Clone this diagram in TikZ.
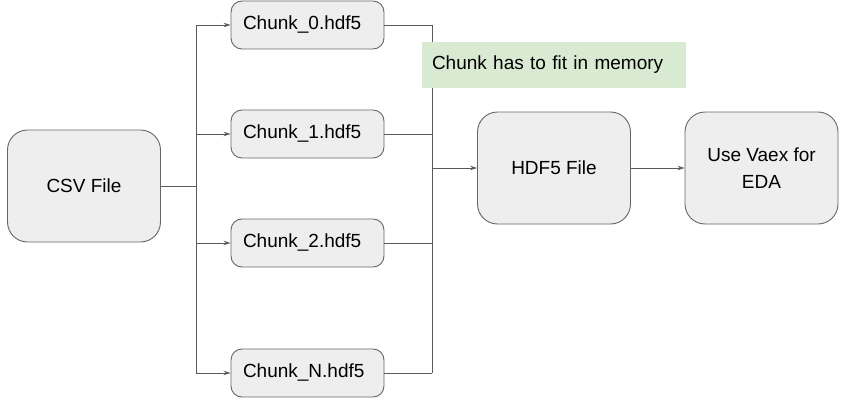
\documentclass[tikz,border=0pt]{standalone}
\usepackage{fontspec}
\setmainfont{Liberation Sans}
\usetikzlibrary{arrows.meta}
\definecolor{boxfill}{HTML}{EEEEEE}
\definecolor{boxline}{HTML}{666666}
\definecolor{wire}{HTML}{595959}
\definecolor{notefill}{HTML}{D9EAD3}

\tikzset{
  bigbox/.style={draw=boxline,fill=boxfill,rounded corners=20pt,line width=0.9pt,
    minimum width=153pt,minimum height=112pt,align=center,
    font=\fontsize{19}{27}\selectfont},
  chunkbox/.style={draw=boxline,fill=boxfill,rounded corners=11pt,line width=0.9pt,
    minimum width=153pt,minimum height=48pt,inner xsep=12pt,text width=129pt,align=left,
    font=\fontsize{19}{22}\selectfont},
  notebox/.style={fill=notefill,minimum width=264pt,minimum height=46pt,inner xsep=10pt,
    text width=244pt,align=left,font=\fontsize{19}{22}\selectfont},
  wireline/.style={draw=wire,line width=0.9pt},
  wirearrow/.style={wireline,-{Stealth[length=7pt,width=4.5pt]}}
}

\begin{document}
\begin{tikzpicture}[x=1pt,y=-1pt]
\useasboundingbox (0,0) rectangle (846,420);

% boxes
\node[bigbox] (csv) at (84,186) {CSV File};
\node[chunkbox] (c0) at (307.5,25) {Chunk\_0.hdf5};
\node[chunkbox] (c1) at (307.5,134) {Chunk\_1.hdf5};
\node[chunkbox] (c2) at (307.5,243) {Chunk\_2.hdf5};
\node[chunkbox] (cn) at (307.5,373) {Chunk\_N.hdf5};
\node[bigbox] (hdf) at (554,168) {HDF5 File};
\node[bigbox] (vaex) at (761.5,168) {Use Vaex for\\EDA};

% split bus
\coordinate (split) at (196,186);
\coordinate (merge) at (432,168);
\draw[wireline] (csv.east) -- (split);
\draw[wireline] (c0.west -| split) -- (cn.west -| split);
\foreach \c in {c0,c1,c2,cn}
  \draw[wirearrow] (\c.west -| split) -- (\c.west);

% merge bus
\draw[wireline] (c0.east -| merge) -- (cn.east -| merge);
\foreach \c in {c0,c1,c2,cn}
  \draw[wireline] (\c.east) -- (\c.east -| merge);
\draw[wirearrow] (merge) -- (hdf.west);
\draw[wirearrow] (hdf.east) -- (vaex.west);

% note
\node[notebox] (note) at (554,65) {Chunk has to fit in memory};

\end{tikzpicture}
\end{document}
